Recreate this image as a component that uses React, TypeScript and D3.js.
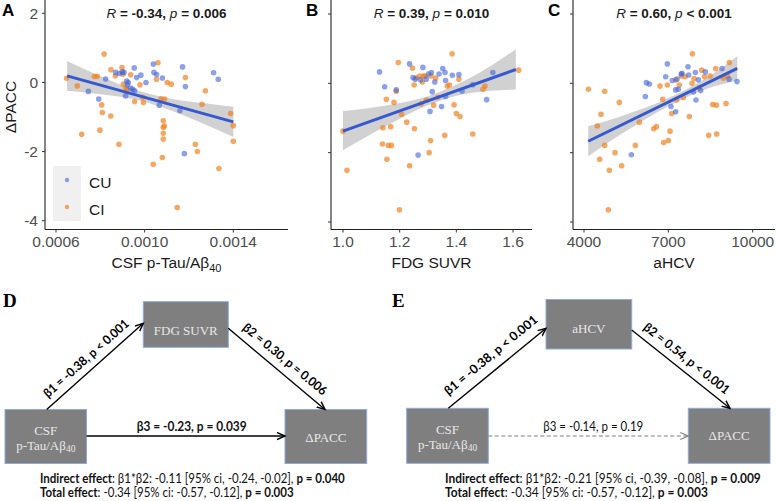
import React, { useLayoutEffect, useRef, useState } from 'react';
import * as d3 from 'd3';

type P = [number, number];

// ---------- Panel A: CSF p-Tau/Aβ40 vs ΔPACC ----------
const aCU: P[] = [
  [0.000746,-0.26],[0.000793,-0.48],[0.000824,0.10],[0.000869,0.29],[0.000886,0.26],[0.000899,0.31],
  [0.000907,0.29],[0.000914,-0.39],[0.000919,0.04],[0.000922,-0.07],[0.000926,0.0],[0.000937,-0.16],
  [0.000946,-0.20],[0.000953,0.42],[0.000955,-0.24],[0.000964,0.14],[0.000983,0.21],[0.001006,0.0],
  [0.001039,0.53],[0.001042,0.29],[0.001054,0.23],[0.001066,-0.66],[0.00108,0.13],[0.001159,-0.82],
  [0.001171,0.45],[0.001179,-2.06],[0.001184,-0.12],[0.001311,0.28],[0.001332,0.09]
];
const aCI: P[] = [
  [0.000648,0.12],[0.000696,-0.10],[0.000716,-1.50],[0.000773,0.17],[0.000786,0.18],[0.000798,-1.38],
  [0.000806,-0.65],[0.000809,-0.87],[0.000817,0.82],[0.000847,-0.97],[0.000848,0.37],[0.000868,0.19],
  [0.000884,-1.79],[0.000898,0.43],[0.000901,0.24],[0.000904,-0.05],[0.000916,-0.16],[0.000919,-0.22],
  [0.000937,0.22],[0.000955,-0.55],[0.000979,-0.07],[0.000991,-0.43],[0.000994,-0.58],[0.001039,-2.37],
  [0.001053,0.09],[0.00106,0.57],[0.001074,-0.47],[0.00108,-2.17],[0.001084,-1.11],[0.001084,-1.30],
  [0.001084,-1.47],[0.001084,-1.64],[0.001089,-1.26],[0.00109,-0.48],[0.001102,0.0],[0.00112,-0.05],
  [0.001147,-3.62],[0.001184,0.14],[0.001229,-1.79],[0.001238,-2.0],[0.001259,-0.63],[0.001274,-0.24],
  [0.001335,-2.49],[0.001388,-0.90],[0.0014,-1.25],[0.0014,-1.70]
];
const aFit: P[] = [[0.00065,0.19],[0.0014,-1.14]];
const aBandX = [0.00065,0.0008,0.00095,0.0011,0.00125,0.0014];
const aBandHi = [0.62,0.18,-0.20,-0.45,-0.59,-0.70];
const aBandLo = [-0.24,-0.34,-0.48,-0.77,-1.15,-1.58];
const aTicks = [0.0006,0.0010,0.0014];

// ---------- Panel B: FDG SUVR vs ΔPACC ----------
const bCU: P[] = [
  [1.129,0.33],[1.147,-0.10],[1.188,-0.19],[1.235,0.56],[1.247,0.17],[1.255,0.12],[1.265,-2.07],
  [1.274,0.10],[1.282,0.46],[1.294,0.12],[1.302,0.27],[1.312,0.31],[1.315,-0.24],[1.324,0.04],
  [1.307,-0.81],[1.339,0.27],[1.348,-0.67],[1.352,0.43],[1.36,0.31],[1.362,0.08],[1.362,-0.38],
  [1.386,0.23],[1.409,0.25],[1.42,-0.22],[1.458,-0.04],[1.507,-0.47],[1.529,0.31]
];
const bCI: P[] = [
  [1.0,-1.38],[1.014,-2.51],[1.153,-0.46],[1.141,-1.28],[1.139,-1.75],[1.16,-1.79],[1.171,-1.79],
  [1.155,-2.19],[1.168,-1.25],[1.18,-0.55],[1.188,-0.23],[1.195,0.60],[1.207,-0.89],[1.199,-3.65],
  [1.225,-1.12],[1.235,-2.38],[1.245,0.44],[1.251,-0.05],[1.252,-1.31],[1.259,0.16],[1.271,0.21],
  [1.276,-0.59],[1.28,0.04],[1.284,0.21],[1.29,0.21],[1.294,-0.48],[1.304,-2.0],[1.309,-1.65],
  [1.311,0.21],[1.32,-0.63],[1.327,0.15],[1.335,-0.40],[1.359,-1.50],[1.368,-0.08],[1.376,-0.05],
  [1.385,0.85],[1.392,-0.62],[1.40,-0.87],[1.413,-0.96],[1.409,0.12],[1.458,-1.46],[1.494,-0.17],
  [1.501,-0.08],[1.62,0.38]
];
const bFit: P[] = [[1.0,-1.38],[1.61,0.40]];
const bBandX = [1.0,1.15,1.3,1.45,1.61];
const bBandHi = [-0.80,-0.64,-0.37,0.16,0.98];
const bBandLo = [-1.93,-1.24,-0.63,-0.28,-0.18];
const bTicks = [1.0,1.2,1.4,1.6];

// ---------- Panel C: aHCV vs ΔPACC ----------
const cCU: P[] = [
  [5684,-2.06],[6182,-0.38],[6217,0.02],[6324,-0.02],[6905,0.19],[6964,0.56],[7095,-0.67],[7142,0.08],
  [7261,-0.82],[7261,-0.19],[7308,0.12],[7356,-0.17],[7462,0.27],[7486,0.29],[7699,0.48],[7723,0.24],
  [7889,-0.25],[7960,0.31],[7984,-0.48],[8067,0.10],[8150,-0.21],[8316,0.33],[8909,0.43],[9158,0.12],
  [9442,0.05]
];
const cCI: P[] = [
  [4154,-0.17],[4474,-1.23],[4605,-0.89],[4557,-2.19],[4735,-0.23],[4735,-1.79],[4901,-2.51],[4866,-3.65],
  [5103,-2.0],[5257,-0.55],[5340,-2.38],[5826,-1.79],[5968,-1.12],[6478,-1.31],[6573,-1.25],[6703,-0.08],
  [6798,-0.46],[6834,-1.71],[6964,-0.05],[7000,-1.65],[7059,-1.38],[7119,-0.87],[7296,-0.48],[7261,0.10],
  [7391,-0.05],[7462,0.21],[7533,-0.41],[7593,0.19],[7747,-0.96],[7854,0.85],[7842,0.0],[7913,0.14],
  [8103,-0.12],[8186,0.38],[8281,0.19],[8435,-1.50],[8482,0.21],[8577,-0.61],[8707,-0.63],[8719,-1.46],
  [8684,0.43],[8956,0.15],[9051,-0.58],[9098,0.21],[9170,0.60]
];
const cFit: P[] = [[4150,-1.67],[9450,0.43]];
const cBandX = [4150,5500,7000,8300,9450];
const cBandHi = [-1.24,-0.90,-0.42,0.125,0.78];
const cBandLo = [-2.10,-1.375,-0.66,-0.175,0.08];
const cTicks = [4000,7000,10000];

const yTicks = [2,0,-2,-4];

const SANS = '"Liberation Sans", Arial, sans-serif';
const SERIF = '"Liberation Serif", "Times New Roman", serif';
const CALI = 'Lato, "Liberation Sans", sans-serif';
const BLUE = '#3F63D8';
const ORANGE = '#F07F1A';
const LINE = '#3658D0';

interface PanelProps {
  letter: string; letterX: number;
  x0: number; x1: number;
  xDomain: [number, number]; xRange: [number, number];
  yRange: [number, number];
  ticks: number[]; fmt: (v: number) => string;
  cu: P[]; ci: P[]; fit: P[];
  bandX: number[]; bandHi: number[]; bandLo: number[];
  stat: [string, string, string];
  title: React.ReactNode;
  showY: boolean; legend?: boolean;
}

function Panel(p: PanelProps) {
  const x = d3.scaleLinear().domain(p.xDomain).range(p.xRange);
  const y = d3.scaleLinear().domain([-4, 2]).range(p.yRange);
  const axisY = 229.5;
  const band = d3.area<number>()
    .x((_, i) => x(p.bandX[i]))
    .y0((_, i) => y(p.bandLo[i]))
    .y1((_, i) => y(p.bandHi[i]))
    .curve(d3.curveMonotoneX)(p.bandX) || '';
  const fitLine = d3.line<P>().x(d => x(d[0])).y(d => y(d[1]))(p.fit) || '';
  const cx = (p.x0 + p.x1) / 2;
  return (
    <g>
      <path d={band} fill="#b0b0b0" fillOpacity={0.58} />
      {p.ci.map((d, i) => (
        <circle key={'ci' + i} cx={x(d[0])} cy={y(d[1])} r={2.8} fill={ORANGE} fillOpacity={0.68} />
      ))}
      {p.cu.map((d, i) => (
        <circle key={'cu' + i} cx={x(d[0])} cy={y(d[1])} r={2.8} fill={BLUE} fillOpacity={0.6} />
      ))}
      <path d={fitLine} stroke={LINE} strokeWidth={3} fill="none" />
      <line x1={p.x0} x2={p.x0} y1={0} y2={axisY} stroke="#222" strokeWidth={1.1} />
      <line x1={p.x0} x2={p.x1} y1={axisY} y2={axisY} stroke="#222" strokeWidth={1.1} />
      {yTicks.map(t => (
        <g key={'yt' + t}>
          <line x1={p.x0 - 3} x2={p.x0} y1={y(t)} y2={y(t)} stroke="#333" strokeWidth={1} />
          {p.showY && (
            <text x={p.x0 - 7} y={y(t)} dy="0.36em" textAnchor="end" fontFamily={SANS} fontSize={15.5} fill="#4d4d4d">{t}</text>
          )}
        </g>
      ))}
      {p.ticks.map(t => (
        <g key={'xt' + t}>
          <line x1={x(t)} x2={x(t)} y1={axisY} y2={axisY + 3} stroke="#333" strokeWidth={1} />
          <text x={x(t)} y={247} textAnchor="middle" fontFamily={SANS} fontSize={15.5} fill="#4d4d4d">{p.fmt(t)}</text>
        </g>
      ))}
      <text x={cx} y={268} textAnchor="middle" fontFamily={SANS} fontSize={15.5} fill="#1a1a1a">{p.title}</text>
      <text x={p.letterX} y={16} fontFamily={SANS} fontSize={17} fontWeight="bold" fill="#000">{p.letter}</text>
      <text x={cx} y={18} textAnchor="middle" fontFamily={SANS} fontSize={13.5} fill="#1a1a1a">
        <tspan fontStyle="italic">{p.stat[0]}</tspan>
        <tspan fontWeight="bold">{p.stat[1]}</tspan>
        <tspan fontStyle="italic">p</tspan>
        <tspan fontWeight="bold">{p.stat[2]}</tspan>
      </text>
      {p.legend && (
        <g>
          <rect x={53} y={166} width={28} height={55} fill="#f0f0f0" />
          <circle cx={67} cy={180} r={2.2} fill={BLUE} fillOpacity={0.6} />
          <circle cx={67} cy={207} r={2.2} fill={ORANGE} fillOpacity={0.68} />
          <text x={89} y={188} fontFamily={SANS} fontSize={15.5} fill="#1a1a1a">CU</text>
          <text x={89} y={215} fontFamily={SANS} fontSize={15.5} fill="#1a1a1a">CI</text>
        </g>
      )}
    </g>
  );
}

interface Box { x: number; y: number; w: number; h: number }

function DBox({ b, children }: { b: Box; children: React.ReactNode }) {
  return (
    <g>
      <rect x={b.x} y={b.y} width={b.w} height={b.h} fill="#7f7f7f" stroke="#8eaadb" strokeWidth={1} />
      {children}
    </g>
  );
}

function CsfText({ b }: { b: Box }) {
  const cx = b.x + b.w / 2;
  return (
    <g fontFamily={SERIF} fontSize={13} fill="#e8e8e8" textAnchor="middle">
      <text x={cx} y={b.y + 25.5}>CSF</text>
      <text x={cx} y={b.y + 40.5}>p-Tau/Aβ<tspan fontSize={9.5} dy={2}>40</tspan></text>
    </g>
  );
}

function RotLabel({ cx, cy, angle, len, children }: { cx: number; cy: number; angle: number; len: number; children: React.ReactNode }) {
  return (
    <text transform={`translate(${cx},${cy}) rotate(${angle})`} textAnchor="middle" dy="0.35em"
      fontFamily={CALI} fontWeight="bold" fontSize={12.5} fill="#000" textLength={len} lengthAdjust="spacingAndGlyphs">
      {children}
    </text>
  );
}

// Two-line effect summary, horizontally scaled so the first line spans the target width
function EffectText({ x, width, ind, tot }: { x: number; width: number; ind: [string, string]; tot: [string, string] }) {
  const ref = useRef<SVGTextElement>(null);
  const [s, setS] = useState(1);
  useLayoutEffect(() => {
    if (ref.current) {
      const len = ref.current.getComputedTextLength();
      if (len > 0) setS(width / len);
    }
  }, [width]);
  return (
    <g transform={`translate(${x},0) scale(${s},1)`} fontFamily={CALI} fontSize={12.5} fill="#111">
      <text ref={ref} x={0} y={483}>
        <tspan fontWeight="bold">Indirect effect</tspan>{ind[0]}<tspan fontWeight="bold">{ind[1]}</tspan>
      </text>
      <text x={0} y={497.5}>
        <tspan fontWeight="bold">Total effect</tspan>{tot[0]}<tspan fontWeight="bold">{tot[1]}</tspan>
      </text>
    </g>
  );
}

function Mediation(props: {
  ox: number; letter: string; mid: string; midBox: Box; csf: Box; pacc: Box;
  b1: string; b2: string; b3: string; b3sig: boolean;
  a1: [number, number, number, number]; a2: [number, number, number, number];
  l1: [number, number, number, number]; l2: [number, number, number, number];
  l3: [number, number, number];
  ind: [string, string]; tot: [string, string]; textX: number; indLen: number;
}) {
  const p = props;
  const y3 = 436;
  return (
    <g>
      <text x={p.ox} y={307} fontFamily={SERIF} fontWeight="bold" fontSize={19} fill="#000">{p.letter}</text>
      <DBox b={p.midBox}>
        <text x={p.midBox.x + p.midBox.w / 2} y={p.midBox.y + 33} textAnchor="middle" fontFamily={SERIF} fontSize={13} fill="#e8e8e8">{p.mid}</text>
      </DBox>
      <DBox b={p.csf}><CsfText b={p.csf} /></DBox>
      <DBox b={p.pacc}>
        <text x={p.pacc.x + p.pacc.w / 2} y={p.pacc.y + 32} textAnchor="middle" fontFamily={SERIF} fontSize={13} fill="#e8e8e8">ΔPACC</text>
      </DBox>
      <line x1={p.a1[0]} y1={p.a1[1]} x2={p.a1[2]} y2={p.a1[3]} stroke="#000" strokeWidth={1.4} markerEnd="url(#arrK)" />
      <line x1={p.a2[0]} y1={p.a2[1]} x2={p.a2[2]} y2={p.a2[3]} stroke="#000" strokeWidth={1.4} markerEnd="url(#arrK)" />
      {p.b3sig ? (
        <line x1={p.csf.x + p.csf.w} y1={y3} x2={p.pacc.x} y2={y3} stroke="#000" strokeWidth={1.4} markerEnd="url(#arrK)" />
      ) : (
        <line x1={p.csf.x + p.csf.w} y1={y3} x2={p.pacc.x} y2={y3} stroke="#808080" strokeWidth={1.1} strokeDasharray="4 2.5" markerEnd="url(#arrG)" />
      )}
      <RotLabel cx={p.l1[0]} cy={p.l1[1]} angle={p.l1[2]} len={p.l1[3]}>{p.b1}</RotLabel>
      <RotLabel cx={p.l2[0]} cy={p.l2[1]} angle={p.l2[2]} len={p.l2[3]}>{p.b2}</RotLabel>
      <text x={p.l3[0]} y={431} textAnchor="middle" fontFamily={CALI} fontSize={12.5}
        fontWeight={p.b3sig ? 'bold' : 'normal'} fill="#111" textLength={p.l3[2]} lengthAdjust="spacingAndGlyphs">{p.b3}</text>
      <EffectText x={p.textX} width={p.indLen} ind={p.ind} tot={p.tot} />
    </g>
  );
}

export default function App() {
  const f4 = (v: number) => v.toFixed(4);
  const f1 = (v: number) => v.toFixed(1);
  const f0 = (v: number) => String(v);
  return (
    <svg width={777} height={501} style={{ position: 'absolute', left: 0, top: 0, background: '#fff' }}>
      <defs>
        <marker id="arrK" markerWidth={10} markerHeight={10} refX={8} refY={4} orient="auto" markerUnits="userSpaceOnUse">
          <path d="M0,0.5 L8,4 L0,7.5" fill="none" stroke="#000" strokeWidth={1.4} />
        </marker>
        <marker id="arrG" markerWidth={10} markerHeight={10} refX={8} refY={4} orient="auto" markerUnits="userSpaceOnUse">
          <path d="M0,0.5 L8,4 L0,7.5" fill="none" stroke="#808080" strokeWidth={1.1} />
        </marker>
      </defs>
      <rect x={0} y={0} width={777} height={501} fill="#fff" />
      <Panel letter="A" letterX={2} x0={45} x1={288} xDomain={[0.0006, 0.0014]} xRange={[56, 233.3]} yRange={[220.7, 13.3]}
        ticks={aTicks} fmt={f4} cu={aCU} ci={aCI} fit={aFit} bandX={aBandX} bandHi={aBandHi} bandLo={aBandLo}
        stat={['R', ' = -0.34, ', ' = 0.006']} showY legend
        title={<>CSF p-Tau/Aβ<tspan fontSize={11} dy={4}>40</tspan></>} />
      <Panel letter="B" letterX={306} x0={331} x1={532} xDomain={[1.0, 1.6]} xRange={[343, 513]} yRange={[222, 14]}
        ticks={bTicks} fmt={f1} cu={bCU} ci={bCI} fit={bFit} bandX={bBandX} bandHi={bBandHi} bandLo={bBandLo}
        stat={['R', ' = 0.39, ', ' = 0.010']} showY={false} title="FDG SUVR" />
      <Panel letter="C" letterX={548} x0={573} x1={775} xDomain={[4000, 10000]} xRange={[584, 752.7]} yRange={[222, 14]}
        ticks={cTicks} fmt={f0} cu={cCU} ci={cCI} fit={cFit} bandX={cBandX} bandHi={cBandHi} bandLo={cBandLo}
        stat={['R', ' = 0.60, ', ' < 0.001']} showY={false} title="aHCV" />
      <text transform="translate(16,107) rotate(-90)" textAnchor="middle" fontFamily={SANS} fontSize={15.5} fill="#1a1a1a">ΔPACC</text>

      <Mediation ox={3} letter="D" mid="FDG SUVR"
        midBox={{ x: 143.3, y: 301.7, w: 85, h: 45.6 }}
        csf={{ x: 5, y: 409.5, w: 81.5, h: 54 }}
        pacc={{ x: 285, y: 409.5, w: 81.7, h: 54 }}
        b1="β1 = -0.38, p < 0.001" b2="β2 = 0.30, p = 0.006" b3="β3 = -0.23, p = 0.039" b3sig
        a1={[46.7, 409.5, 143.3, 323.3]} a2={[228.3, 328.3, 325, 409.5]}
        l1={[86, 358.3, -41.9, 110]} l2={[285, 359, 39.6, 105]} l3={[191.7, 0, 110]}
        ind={[': β1*β2: -0.11 [95% ci, -0.24, -0.02], ', 'p = 0.040']}
        tot={[': -0.34 [95% ci: -0.57, -0.12], ', 'p = 0.003']}
        textX={40} indLen={305} />
      <Mediation ox={392} letter="E" mid="aHCV"
        midBox={{ x: 546, y: 299.5, w: 85.7, h: 49.5 }}
        csf={{ x: 406.7, y: 408.3, w: 81.6, h: 55 }}
        pacc={{ x: 688.3, y: 408.3, w: 81.7, h: 55 }}
        b1="β1 = -0.38, p < 0.001" b2="β2 = 0.54, p < 0.001" b3="β3 = -0.14, p = 0.19" b3sig={false}
        a1={[448.3, 408.3, 546, 328.3]} a2={[631.7, 330, 730, 408.3]}
        l1={[490.7, 355, -39.6, 117]} l2={[686.7, 358.3, 38.5, 106]} l3={[593.3, 0, 100]}
        ind={[': β1*β2: -0.21 [95% ci, -0.39, -0.08], ', 'p = 0.009']}
        tot={[': -0.34 [95% ci: -0.57, -0.12], ', 'p = 0.003']}
        textX={445} indLen={316} />
    </svg>
  );
}
